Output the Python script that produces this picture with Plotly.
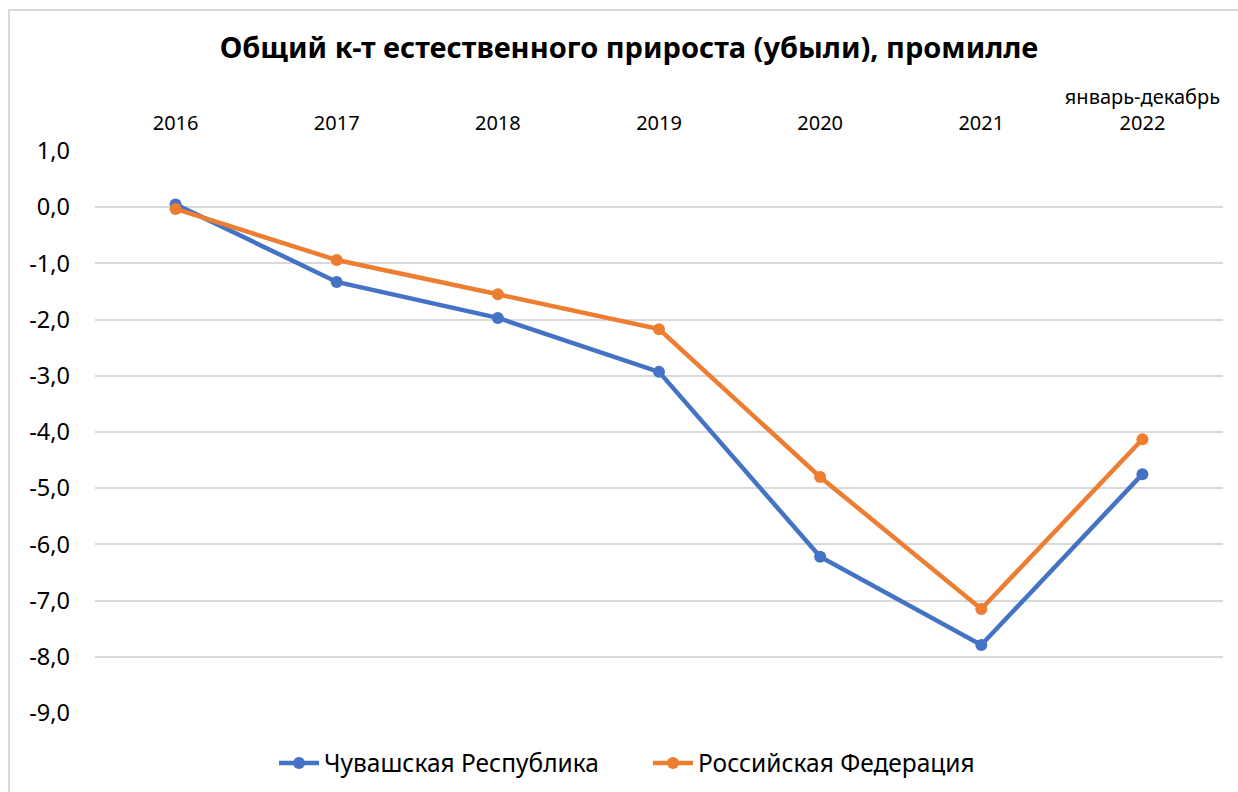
import plotly.graph_objects as go

years = ["2016", "2017", "2018", "2019", "2020", "2021", "2022"]
year_labels = ["2016", "2017", "2018", "2019", "2020", "2021", "январь-декабрь<br>2022"]
chuvash = [0.05, -1.33, -1.97, -2.93, -6.22, -7.79, -4.75]
russia = [-0.03, -0.94, -1.55, -2.17, -4.80, -7.15, -4.13]
y_ticks = [1, 0, -1, -2, -3, -4, -5, -6, -7, -8, -9]
y_tick_text = ["1,0", "0,0", "-1,0", "-2,0", "-3,0", "-4,0", "-5,0", "-6,0", "-7,0", "-8,0", "-9,0"]

FONT = "Noto Sans"
BLUE = "#4472C4"
ORANGE = "#ED7D31"

W, H = 1238, 792
L, R, T, B = 95, 15, 151, 79
PW, PH = W - L - R, H - T - B

fig = go.Figure()
fig.add_trace(go.Scatter(x=years, y=chuvash, name="Чувашская Республика", mode="lines+markers",
                         line=dict(color=BLUE, width=4.5), marker=dict(size=12, color=BLUE)))
fig.add_trace(go.Scatter(x=years, y=russia, name="Российская Федерация", mode="lines+markers",
                         line=dict(color=ORANGE, width=4.5), marker=dict(size=12, color=ORANGE)))

fig.update_layout(
    width=W, height=H,
    margin=dict(l=L, r=R, t=T, b=B, autoexpand=False),
    paper_bgcolor="white", plot_bgcolor="white",
    font=dict(family=FONT, color="#000000"),
    title=dict(text="<b>Общий к-т естественного прироста (убыли), промилле</b>",
               x=629 / W, xanchor="center", y=1 - 48 / H, yanchor="middle",
               font=dict(size=29, family=FONT, color="#000000")),
    xaxis=dict(side="top", type="category", range=[-0.5, 6.5],
               tickmode="array", tickvals=years, ticktext=year_labels,
               showgrid=False, showline=False, ticks="", zeroline=False,
               tickfont=dict(size=20, family=FONT), ticklabelstandoff=16),
    yaxis=dict(range=[-9, 1], tickmode="array", tickvals=y_ticks, ticktext=y_tick_text,
               showgrid=True, gridcolor="#D9D9D9", gridwidth=1.5, zeroline=False,
               showline=False, ticks="", tickfont=dict(size=23.5, family=FONT),
               ticklabelstandoff=24),
    legend=dict(orientation="h", x=0.5 - 11 / PW, xanchor="center",
                yref="container", y=1 - 763 / H, yanchor="middle",
                font=dict(size=24.5, family=FONT), itemwidth=40, tracegroupgap=0,
                entrywidth=319, entrywidthmode="pixels",
                bgcolor="rgba(0,0,0,0)"),
    showlegend=True,
)

fig.add_shape(type="rect", xref="paper", yref="paper",
              x0=-(L - 9) / PW, x1=1.2, y0=-0.5, y1=1 + (T - 10) / PH,
              line=dict(color="#D9D9D9", width=2), fillcolor="rgba(0,0,0,0)", layer="below")

fig.write_html("out.html", post_script="document.body.style.margin='0';",
               config={"displayModeBar": False})
